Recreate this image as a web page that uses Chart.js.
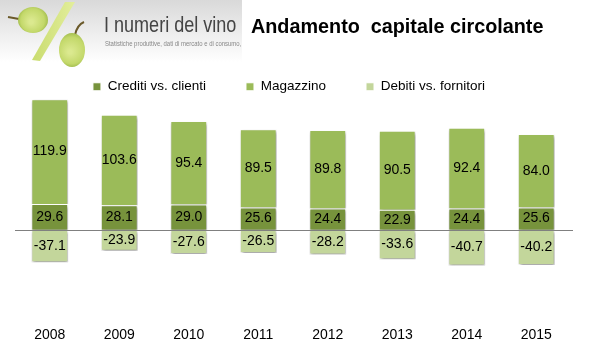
<!DOCTYPE html>
<html>
<head>
<meta charset="utf-8">
<style>
  html, body { margin: 0; padding: 0; background: #fff; }
  #wrap { width: 594px; height: 357px; }
</style>
<script src="https://cdn.jsdelivr.net/npm/chart.js@4"></script>
</head>
<body>
<div id="wrap"><canvas id="chart1"></canvas></div>
<script>
const years = ['2008', '2009', '2010', '2011', '2012', '2013', '2014', '2015'];
const crediti = [29.6, 28.1, 29.0, 25.6, 24.4, 22.9, 24.4, 25.6];
const magazzino = [119.9, 103.6, 95.4, 89.5, 89.8, 90.5, 92.4, 84.0];
const debiti = [-37.1, -23.9, -27.6, -26.5, -28.2, -33.6, -40.7, -40.2];

// logo, header strip and title, drawn behind the chart
const headerPlugin = {
  id: 'header',
  afterLayout(chart) {
    // legend sits a little left of the plot centre
    chart.legend.left -= 4;
    chart.legend.right -= 4;
  },
  beforeDraw(chart) {
    const c = chart.ctx;
    c.save();
    const bg = c.createLinearGradient(0, 0, 0, 62);
    bg.addColorStop(0, '#d9d9d9');
    bg.addColorStop(1, '#ffffff');
    c.fillStyle = bg;
    c.fillRect(0, 0, 242, 62);

    // stems
    c.strokeStyle = '#6b5a2a';
    c.lineWidth = 2;
    c.beginPath(); c.moveTo(8, 17); c.lineTo(19, 19); c.stroke();
    c.beginPath(); c.moveTo(75, 35); c.quadraticCurveTo(77, 25, 84, 22); c.stroke();

    // the slash of the percent sign
    const slash = c.createLinearGradient(32, 0, 75, 0);
    slash.addColorStop(0, '#c9dc6e');
    slash.addColorStop(1, '#e3ee9c');
    c.fillStyle = slash;
    c.beginPath();
    c.moveTo(65, 2); c.lineTo(75, 2); c.lineTo(40, 61); c.lineTo(32, 60);
    c.closePath();
    c.fill();

    drawGrape(c, 33, 20, 15, 13);
    drawGrape(c, 72, 50, 13, 17);

    c.textBaseline = 'middle';
    c.fillStyle = '#000';
    c.font = 'bold 19.8px "Liberation Sans"';
    c.fillText('Andamento  capitale circolante', 251, 28);

    c.beginPath();
    c.rect(0, 0, 242, 62);
    c.clip();
    c.fillStyle = '#444444';
    c.font = '22px "Liberation Sans"';
    c.save();
    c.translate(104, 26);
    c.scale(0.82, 1);
    c.fillText('I numeri del vino', 0, 0);
    c.restore();
    c.fillStyle = '#888888';
    c.font = '7px "Liberation Sans"';
    c.save();
    c.translate(105, 44);
    c.scale(0.85, 1);
    c.fillText('Statistiche produttive, dati di mercato e di consumo,', 0, 0);
    c.restore();
    c.restore();
  }
};

function drawGrape(c, x, y, rx, ry) {
  const g = c.createRadialGradient(x - 2, y + 2, 2, x, y, Math.max(rx, ry));
  g.addColorStop(0, '#dbe98f');
  g.addColorStop(0.75, '#c3d86a');
  g.addColorStop(1, '#a5bf50');
  c.fillStyle = g;
  c.beginPath();
  c.ellipse(x, y, rx, ry, 0, 0, Math.PI * 2);
  c.fill();
}

// soft shadow under the bars
const shadowPlugin = {
  id: 'barShadow',
  beforeDatasetsDraw(chart) {
    const c = chart.ctx;
    c.save();
    c.shadowColor = 'rgba(0,0,0,0.45)';
    c.shadowBlur = 3;
    c.shadowOffsetX = 1;
    c.shadowOffsetY = 2;
  },
  afterDatasetsDraw(chart) {
    chart.ctx.restore();
  }
};

// values in the middle of each segment, and the zero line on top
const valueLabels = {
  id: 'valueLabels',
  afterDatasetsDraw(chart) {
    const c = chart.ctx;
    const y0 = chart.scales.y.getPixelForValue(0);
    c.save();
    c.strokeStyle = '#808080';
    c.lineWidth = 1;
    c.beginPath();
    c.moveTo(15, Math.round(y0) + 0.5);
    c.lineTo(573, Math.round(y0) + 0.5);
    c.stroke();

    c.fillStyle = '#000';
    c.font = '14px "Liberation Sans"';
    c.textAlign = 'center';
    c.textBaseline = 'middle';
    chart.data.datasets.forEach((ds, i) => {
      chart.getDatasetMeta(i).data.forEach((bar, j) => {
        const mid = (bar.y + bar.base) / 2;
        c.fillText(ds.data[j].toFixed(1), bar.x, mid);
      });
    });
    c.restore();
  }
};

new Chart(document.getElementById('chart1').getContext('2d'), {
  type: 'bar',
  data: {
    labels: years,
    datasets: [
      { label: 'Crediti vs. clienti', data: crediti, backgroundColor: '#77933c' },
      { label: 'Magazzino', data: magazzino, backgroundColor: '#9bbb59' },
      { label: 'Debiti vs. fornitori', data: debiti, backgroundColor: '#c3d69b' }
    ]
  },
  options: {
    responsive: true,
    maintainAspectRatio: false,
    animation: false,
    layout: { padding: { left: 15, right: 23, top: 40, bottom: 11 } },
    datasets: {
      bar: { borderColor: '#ffffff', borderWidth: 1, barPercentage: 0.53, categoryPercentage: 1 }
    },
    plugins: {
      tooltip: { enabled: false },
      title: { display: false },
      legend: {
        position: 'top',
        maxHeight: 57,
        labels: {
          color: '#000',
          boxWidth: 8,
          boxHeight: 8,
          padding: 40,
          font: { family: '"Liberation Sans"', size: 13.5 }
        }
      }
    },
    scales: {
      x: {
        stacked: true,
        grid: { display: false },
        border: { display: false },
        ticks: {
          color: '#000',
          padding: 2,
          maxRotation: 0,
          font: { family: '"Liberation Sans"', size: 14 }
        }
      },
      y: {
        stacked: true,
        min: -100,
        max: 152,
        display: false
      }
    }
  },
  plugins: [headerPlugin, shadowPlugin, valueLabels]
});
</script>
</body>
</html>
